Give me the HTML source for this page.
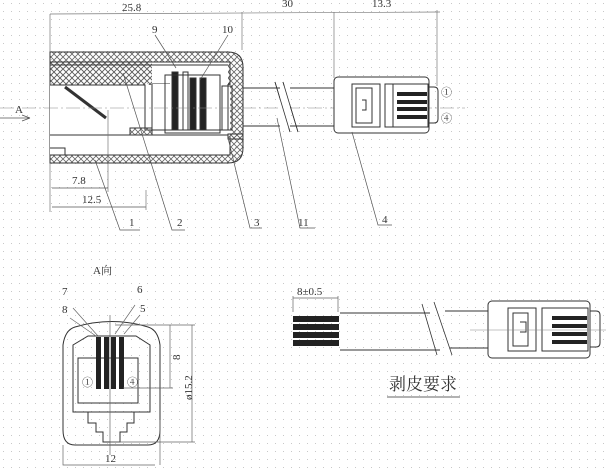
<!DOCTYPE html>
<html><head><meta charset="utf-8"><style>
html,body{margin:0;padding:0;background:#fff}
svg{display:block}
text{font-family:"Liberation Serif","Noto Serif CJK SC",serif;fill:#333}
</style></head><body>
<svg width="606" height="474" viewBox="0 0 606 474" xmlns="http://www.w3.org/2000/svg">
<defs>
<pattern id="dots" width="8" height="8" patternUnits="userSpaceOnUse"><rect x="3" y="3" width="1" height="1" fill="#c8c8c8"/></pattern>
<pattern id="hatch" width="6" height="6" patternUnits="userSpaceOnUse"><path d="M0 0L6 6M6 0L0 6" stroke="#666" stroke-width="0.8"/></pattern>
</defs>
<rect width="606" height="474" fill="#fff"/>
<rect width="606" height="474" fill="url(#dots)"/>
<g stroke="#333" stroke-width="1" fill="none">
<!-- top dims -->
<line x1="50" y1="14" x2="440" y2="12" stroke="#777" stroke-width="0.7"/>
<line x1="50" y1="14" x2="50" y2="212" stroke="#777" stroke-width="0.7"/>
<line x1="242" y1="12" x2="242" y2="50" stroke="#777" stroke-width="0.7"/>
<line x1="334" y1="12" x2="334" y2="78" stroke="#777" stroke-width="0.7"/>
<line x1="437" y1="10" x2="437" y2="86" stroke="#777" stroke-width="0.7"/>
<!-- housing -->
<path d="M50 52H228Q243 52 243 67V148Q243 163 228 163H50Z" fill="url(#hatch)"/>
<path d="M50 62H230V84H152V130H50Z" fill="url(#hatch)"/>
<rect x="50" y="85" width="100" height="70" fill="#fff" stroke="none"/>
<rect x="152" y="62" width="76" height="72" fill="#fff" stroke="none"/>
<rect x="50" y="85" width="180" height="70" fill="#fff" stroke="none"/>
<path d="M50 62H230V85M50 65H228M50 85H145V130H152V84H170" />
<path d="M152 84V130H228V84" fill="#fff"/>
<path d="M50 155H230V136" />
<path d="M228 134H243V139H228Z" fill="url(#hatch)"/>
<path d="M130 128H152V135H130Z" fill="url(#hatch)"/>
<line x1="50" y1="135" x2="228" y2="135"/>
<path d="M65 87L106 118" stroke-width="3"/>
<path d="M50 148L65 148L65 155"/>
<rect x="172" y="72" width="6" height="58" fill="#222"/>
<rect x="183" y="72" width="5" height="58" fill="#fff"/>
<rect x="190" y="78" width="6" height="52" fill="#222"/>
<rect x="200" y="78" width="6" height="52" fill="#222"/>
<rect x="165" y="75" width="55" height="58"/>
<rect x="222" y="86" width="10" height="44"/>
<!-- centerline -->
<line x1="0" y1="108" x2="465" y2="108" stroke="#888" stroke-width="0.6" stroke-dasharray="14,3,2,3"/>
<!-- cable -->
<path d="M243 88H335M243 126H335"/>
<path d="M275 82L290 132M283 82L298 132" stroke-width="0.8"/>
<rect x="280" y="86" width="10" height="42" fill="#fff" stroke="none"/>
<path d="M275 82L290 132M283 82L298 132" stroke-width="0.8"/>
<!-- plug -->
<rect x="334" y="77" width="95" height="56" rx="4" fill="#fff"/>
<path d="M429 87H434Q438 87 438 91V119Q438 123 434 123H429"/>
<rect x="352" y="84" width="28" height="43"/>
<rect x="356" y="88" width="16" height="35"/>
<path d="M362 100H366V110H362"/>
<rect x="385" y="84" width="43" height="43"/>
<line x1="393" y1="84" x2="393" y2="127"/>
<g fill="#222" stroke="none"><rect x="397" y="92" width="30" height="4"/><rect x="397" y="100" width="30" height="4"/><rect x="397" y="107" width="30" height="4"/><rect x="397" y="115" width="30" height="4"/></g>
<!-- small dims -->
<path d="M52 188H108M52 207H146" stroke="#555" stroke-width="0.7"/>
<line x1="108" y1="110" x2="108" y2="192" stroke="#777" stroke-width="0.7"/>
<line x1="146" y1="190" x2="146" y2="210" stroke="#777" stroke-width="0.7"/>
<!-- leaders -->
<g stroke="#555" stroke-width="0.7">
<path d="M95 160L120 230H140"/><path d="M123 73L172 230H185"/><path d="M228 138L250 228H262"/><path d="M277 118L300 228H315"/><path d="M352 132L378 225H392"/>
<path d="M155 35L176 68"/><path d="M228 35L200 80"/>
<path d="M0 118H30M30 118L22 115M30 118L22 121"/>
</g>
</g>
<g font-size="11">
<text x="122" y="11">25.8</text><text x="282" y="7">30</text><text x="372" y="7">13.3</text>
<text x="152" y="33">9</text><text x="222" y="33">10</text>
<text x="15" y="113">A</text>
<text x="72" y="184">7.8</text><text x="82" y="203">12.5</text>
<text x="129" y="226">1</text><text x="177" y="226">2</text><text x="254" y="226">3</text><text x="298" y="226">11</text><text x="382" y="223">4</text>
<text x="441" y="96">①</text><text x="441" y="122">④</text>
</g>
<!-- A view -->
<g stroke="#333" stroke-width="1" fill="none">
<path d="M63 345Q65 330 75 327Q112 316 148 327Q158 330 160 345V430Q160 445 148 445H75Q63 445 63 430Z"/>
<path d="M73 412V345L88 336H136L150 345V412Z"/>
<rect x="78" y="358" width="60" height="45"/>
<path d="M88 412V423H96V432H103V442H120V432H127V423H134V412"/>
<g fill="#222" stroke="none"><rect x="96" y="337" width="5" height="52"/><rect x="104" y="337" width="5" height="52"/><rect x="111" y="337" width="5" height="52"/><rect x="119" y="337" width="5" height="52"/></g>
<g stroke="#666" stroke-width="0.7">
<path d="M110 315V455"/>
<path d="M115 325L195 325M123 388L173 388M110 442L195 442"/>
<path d="M170 325V388M192 325V442"/>
<path d="M63 445V465H155"/><path d="M160 420V465"/>
<path d="M73 308L98 336M70 318L96 336M135 305L115 334M140 315L124 334"/>
</g>
</g>
<g font-size="11">
<text x="93" y="274">A向</text>
<text x="62" y="295">7</text><text x="62" y="313">8</text><text x="137" y="293">6</text><text x="140" y="312">5</text>
<text x="82" y="386">①</text><text x="127" y="386">④</text>
<text x="105" y="462">12</text>
<text transform="translate(180,360) rotate(-90)">8</text>
<text transform="translate(192,400) rotate(-90)">ø15.2</text>
</g>
<!-- stripping -->
<g stroke="#333" stroke-width="1" fill="none">
<path d="M293 298H338M293 296V312M338 296V312" stroke="#666" stroke-width="0.7"/>
<g fill="#222" stroke="none"><rect x="293" y="316" width="46" height="6"/><rect x="293" y="324" width="46" height="6"/><rect x="293" y="332" width="46" height="6"/><rect x="293" y="340" width="46" height="6"/></g>
<path d="M340 313H430M340 350H440M445 311H488M450 348H488"/>
<path d="M422 304L437 355M434 302L452 355" stroke-width="0.8"/>
<rect x="488" y="301" width="102" height="57" rx="4" fill="#fff"/>
<path d="M590 311H596Q600 311 600 315V343Q600 347 596 347H590"/>
<rect x="508" y="308" width="28" height="43"/><rect x="513" y="313" width="15" height="33"/><path d="M520 322H526V332H520"/>
<rect x="542" y="308" width="46" height="43"/>
<g fill="#222" stroke="none"><rect x="552" y="316" width="35" height="4"/><rect x="552" y="324" width="35" height="4"/><rect x="552" y="332" width="35" height="4"/><rect x="552" y="340" width="35" height="4"/></g>
<line x1="470" y1="330" x2="606" y2="330" stroke="#888" stroke-width="0.6"/>
<line x1="387" y1="397" x2="460" y2="397" stroke-width="0.8"/>
</g>
<text x="297" y="295" font-size="11">8±0.5</text>
<text x="389" y="390" font-size="17" font-family="'Noto Serif CJK SC',serif">剥皮要求</text>
</svg>
</body></html>
